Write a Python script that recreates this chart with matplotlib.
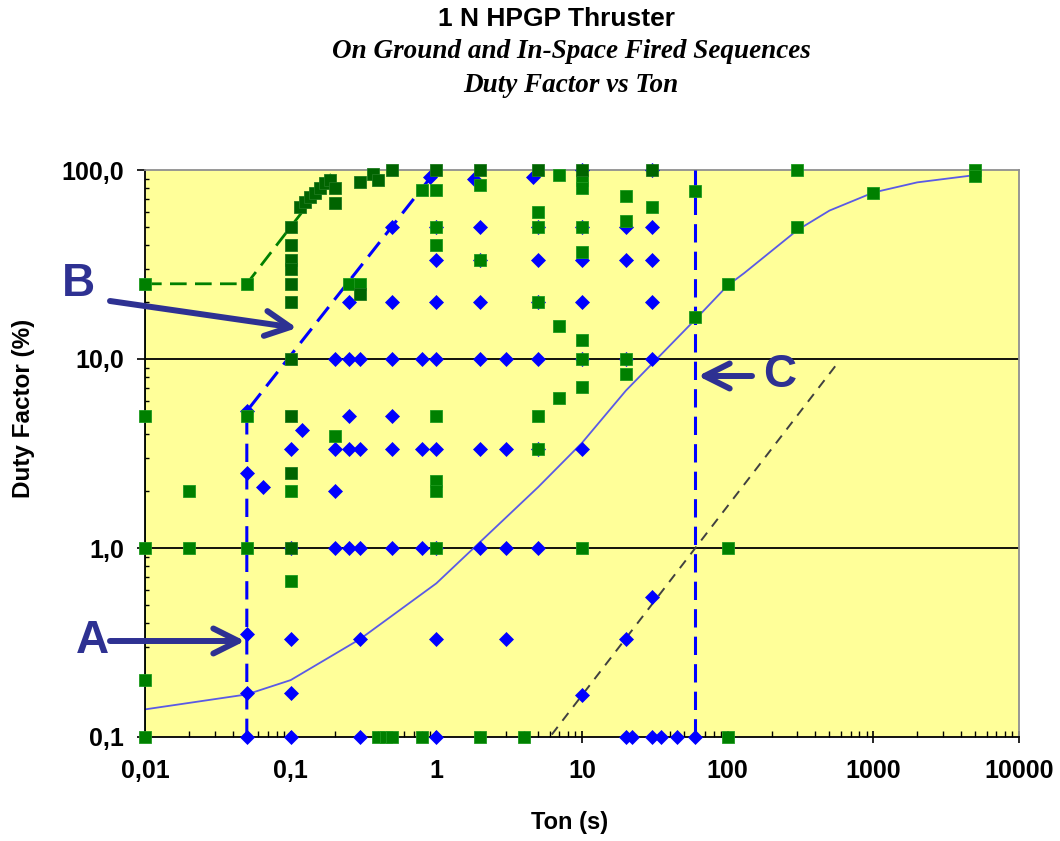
import matplotlib
matplotlib.use("Agg")
import matplotlib.pyplot as plt
from matplotlib.ticker import FixedLocator, FixedFormatter, LogLocator, NullFormatter

# ---------------- data ----------------
x_ticks = [0.01, 0.1, 1, 10, 100, 1000, 10000]
x_tick_labels = ['0,01', '0,1', '1', '10', '100', '1000', '10000']
y_ticks = [0.1, 1, 10, 100]
y_tick_labels = ['0,1', '1,0', '10,0', '100,0']
grid_levels = [1, 10]

# blue diamonds
blue_x = [0.9, 1.8, 4.6, 10, 30,
          0.5, 1, 2, 5, 10, 20, 30,
          1, 2, 5, 10, 20, 30,
          0.25, 0.5, 1, 2, 5, 10, 30,
          0.2, 0.25, 0.3, 0.5, 0.8, 1, 2, 3, 5, 10, 20, 30,
          0.05, 0.25, 0.5, 0.12,
          0.1, 0.2, 0.25, 0.3, 0.5, 0.8, 1, 2, 3, 5, 10,
          0.05, 0.065, 0.2,
          0.1, 0.2, 0.25, 0.3, 0.5, 0.8, 1, 2, 3, 5,
          0.05, 0.1, 0.3, 1, 3, 20, 30,
          0.05, 0.1, 10,
          0.05, 0.1, 0.3, 1, 20, 22, 30, 35, 45, 60]
blue_y = [92, 90, 92, 100, 100,
          50, 50, 50, 50, 50, 50, 50,
          33.3, 33.3, 33.3, 33.3, 33.3, 33.3,
          20, 20, 20, 20, 20, 20, 20,
          10, 10, 10, 10, 10, 10, 10, 10, 10, 10, 10, 10,
          5.3, 5, 5, 4.2,
          3.33, 3.33, 3.33, 3.33, 3.33, 3.33, 3.33, 3.33, 3.33, 3.33, 3.33,
          2.5, 2.1, 2.0,
          1, 1, 1, 1, 1, 1, 1, 1, 1, 1,
          0.35, 0.33, 0.33, 0.33, 0.33, 0.33, 0.55,
          0.17, 0.17, 0.167,
          0.1, 0.1, 0.1, 0.1, 0.1, 0.1, 0.1, 0.1, 0.1, 0.1]

# green squares (ground)
green_x = [0.01, 0.05, 0.01, 0.05, 0.01, 0.02, 0.05, 0.01, 0.01, 0.02,
           0.1, 0.1, 0.2, 0.25, 0.3, 0.8, 1, 1, 1, 1, 1, 1, 1,
           0.4, 0.45, 0.5, 0.8, 2, 2, 2, 4, 5, 5, 5, 5, 5,
           7, 7, 7, 10, 10, 10, 10, 10, 10, 10, 10,
           20, 20, 20, 20, 30, 60, 60, 100, 100, 100,
           300, 300, 1000, 5000, 5000]
green_y = [25, 25, 5, 5, 1, 1, 1, 0.2, 0.1, 2,
           2.0, 0.67, 3.9, 25, 25, 78, 78, 50, 40, 5, 2.25, 2.0, 1,
           0.1, 0.1, 0.1, 0.1, 83, 33.3, 0.1, 0.1, 60, 50, 20, 5, 3.33,
           94, 15, 6.2, 88, 80, 50, 37, 12.6, 10, 7.1, 1,
           73, 54, 10, 8.3, 64, 77, 16.7, 25, 1, 0.1,
           100, 50, 76, 100, 93]

# dark green squares (in-space)
dgreen_x = [0.1, 0.1, 0.1, 0.1, 0.1, 0.1, 0.1, 0.1, 0.1, 0.1,
            0.116, 0.125, 0.135, 0.146, 0.159, 0.172, 0.186,
            0.2, 0.2, 0.3, 0.3, 0.37, 0.4, 0.5, 1, 2, 5, 10, 30]
dgreen_y = [50, 40, 33.3, 30, 25, 20, 10, 5, 2.5, 1,
            64, 68, 72, 76, 80, 85, 88,
            80, 67, 22, 86, 95, 89, 100, 100, 100, 100, 100, 100]

# solid envelope curve
curve_x = [0.01, 0.05, 0.1, 0.3, 1, 5, 10, 20, 60, 100, 130, 300, 500, 1000, 2000, 5000]
curve_y = [0.14, 0.168, 0.2, 0.33, 0.65, 2.1, 3.6, 6.8, 16.2, 24.5, 28.5, 48, 61, 76, 86, 94]

# dashed guide lines
lineAB_x = [0.05, 0.05, 0.92]
lineAB_y = [0.1, 5.3, 92]
lineC_x = [60, 60]
lineC_y = [0.1, 100]
green_dash_x = [0.01, 0.05, 0.1, 0.19]
green_dash_y = [25, 25, 50, 95]
green_vert_x = [0.01, 0.01]
green_vert_y = [0.1, 25]
black_dash_x = [6.2, 550]
black_dash_y = [0.103, 9.2]

# ---------------- figure ----------------
W, H = 1060, 841
fig = plt.figure(figsize=(W / 100, H / 100), dpi=100)
fig.patch.set_facecolor('white')
ax = fig.add_axes([145 / W, 1 - 737 / H, (1019 - 145) / W, (737 - 170) / H])
ax.set_facecolor('#FFFF99')
ax.set_xscale('log')
ax.set_yscale('log')
ax.set_xlim(0.01, 10000)
ax.set_ylim(0.1, 100)

for lv in grid_levels:
    ax.axhline(lv, color='black', lw=1.3, zorder=1)

blue = '#0000FF'
ax.plot(green_vert_x, green_vert_y, color='#00A000', lw=1.3, zorder=2)
ax.plot(curve_x, curve_y, color='#5A5AE6', lw=1.3, zorder=2)
ax.plot(black_dash_x, black_dash_y, color='#404040', lw=1.4, dashes=(5, 4), zorder=2)
ax.plot(lineAB_x, lineAB_y, color=blue, lw=2.2, dashes=(6, 3), zorder=3)
ax.plot(lineC_x, lineC_y, color=blue, lw=2.2, dashes=(6, 3), zorder=3)
ax.plot(green_dash_x, green_dash_y, color='#008000', lw=2.0, dashes=(6, 3), zorder=3)

ax.plot(blue_x, blue_y, linestyle='none', marker='D', ms=7.2, color=blue,
        mec=blue, mew=0.5, zorder=4, clip_on=False)
ax.plot(green_x, green_y, linestyle='none', marker='s', ms=9, color='#008000',
        mec='#1E9A1E', mew=0.6, zorder=5, clip_on=False)
ax.plot(dgreen_x, dgreen_y, linestyle='none', marker='s', ms=9, color='#006400',
        mec='#1E7A1E', mew=0.6, zorder=6, clip_on=False)

# axes styling
for s in ['left', 'bottom']:
    ax.spines[s].set_color('black')
    ax.spines[s].set_linewidth(1.3)
for s in ['top', 'right']:
    ax.spines[s].set_color('#909090')
    ax.spines[s].set_linewidth(1.3)

ax.xaxis.set_major_locator(FixedLocator(x_ticks))
ax.xaxis.set_major_formatter(FixedFormatter(x_tick_labels))
ax.xaxis.set_minor_locator(LogLocator(base=10, subs=range(2, 10)))
ax.xaxis.set_minor_formatter(NullFormatter())
ax.yaxis.set_major_locator(FixedLocator(y_ticks))
ax.yaxis.set_major_formatter(FixedFormatter(y_tick_labels))
ax.yaxis.set_minor_locator(LogLocator(base=10, subs=range(2, 10)))
ax.yaxis.set_minor_formatter(NullFormatter())

ax.tick_params(axis='x', which='major', direction='inout', length=9, width=1.2,
               labelsize=18, pad=11)
ax.tick_params(axis='x', which='minor', direction='in', length=4, width=1.0)
ax.tick_params(axis='y', which='major', direction='out', length=6, width=1.2,
               labelsize=18, pad=9)
ax.tick_params(axis='y', which='minor', direction='in', length=3, width=1.0)
for lab in ax.get_xticklabels() + ax.get_yticklabels():
    lab.set_fontweight('bold')
    lab.set_family('Liberation Sans')

# titles
fig.text(556 / W, 1 - 19 / H, '1 N HPGP Thruster', ha='center', va='center',
         fontsize=19, fontweight='bold', family='Liberation Sans')
fig.text(571 / W, 1 - 52 / H, 'On Ground and In-Space Fired Sequences', ha='center',
         va='center', fontsize=19.5, fontweight='bold', style='italic', family='Liberation Serif')
fig.text(571 / W, 1 - 86 / H, 'Duty Factor vs Ton', ha='center', va='center',
         fontsize=19.5, fontweight='bold', style='italic', family='Liberation Serif')

# axis labels
fig.text(24 / W, 1 - 408 / H, 'Duty Factor (%)', rotation=90, ha='center', va='center',
         fontsize=17.5, fontweight='bold', family='Liberation Sans')
fig.text(570 / W, 1 - 823 / H, 'Ton (s)', ha='center', va='center',
         fontsize=17, fontweight='bold', family='Liberation Sans')

# annotations A, B, C
navy = '#2E3192'
letters = [('A', 92, 641), ('B', 78, 284), ('C', 780, 375)]
for t, px, py in letters:
    fig.text(px / W, 1 - py / H, t, ha='center', va='center', fontsize=33,
             fontweight='bold', color=navy, family='Liberation Sans')

arrows = [((110, 641), (245, 641)), ((110, 301), (297, 328)), ((752, 376), (698, 376))]
for (x0, y0), (x1, y1) in arrows:
    fig.add_artist(matplotlib.patches.FancyArrowPatch(
        (x0 / W, 1 - y0 / H), (x1 / W, 1 - y1 / H), transform=fig.transFigure,
        arrowstyle='->,head_length=0.6,head_width=0.3', mutation_scale=30,
        lw=4.3, color=navy, capstyle='round', joinstyle='round',
        shrinkA=0, shrinkB=0, zorder=10))

fig.savefig('out.png', dpi=100)
